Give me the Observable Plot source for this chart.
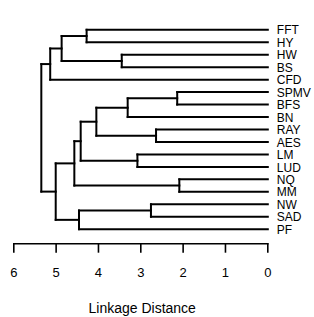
<!DOCTYPE html>
<html><head><meta charset="utf-8">
<script src="https://cdn.jsdelivr.net/npm/d3@7"></script>
<script src="https://cdn.jsdelivr.net/npm/@observablehq/plot@0.6"></script>
<style>html,body{margin:0;padding:0;background:#fff;overflow:hidden}</style>
</head><body><div id="chart"></div>
<script>
const leaves = ["FFT","HY","HW","BS","CFD","SPMV","BFS","BN","RAY","AES","LM","LUD","NQ","MM","NW","SAD","PF"];
// hierarchical merges (m# refers to the #-th merge, 1-based)
const mergeLeft   = ["NQ","SPMV","RAY","NW","LM","m2","HW","m6","FFT","m8","m4","m10","m9","m12","m13","m15"];
const mergeRight  = ["MM","BFS","AES","SAD","LUD","BN","BS","m3","HY","m5","PF","m1","m7","m11","CFD","m14"];
const mergeHeight = [2.09,2.14,2.64,2.76,3.08,3.31,3.45,4.05,4.28,4.42,4.46,4.57,4.87,5.01,5.14,5.35];
const xTicks = [0,1,2,3,4,5,6];
const axisTitle = "Linkage Distance";

const nodes = {};
leaves.forEach((d, i) => nodes[d] = {x: 0, y: i});
const segs = [];
mergeHeight.forEach((h, k) => {
  const a = nodes[mergeLeft[k]], b = nodes[mergeRight[k]];
  segs.push({x1: a.x, x2: h, y1: a.y, y2: a.y});
  segs.push({x1: b.x, x2: h, y1: b.y, y2: b.y});
  segs.push({x1: h, x2: h, y1: a.y, y2: b.y});
  nodes["m" + (k + 1)] = {x: h, y: (a.y + b.y) / 2};
});

const chart = Plot.plot({
  width: 314, height: 317,
  marginLeft: 13.3, marginRight: 46.7, marginTop: 20, marginBottom: 73.7,
  style: {fontFamily: "'Liberation Sans', Arial, sans-serif", background: "#fff", overflow: "hidden"},
  x: {domain: [6, 0]},
  y: {domain: [0, 16], range: [29.3, 228.7], axis: null},
  marks: [
    Plot.link(segs, {x1: "x1", y1: "y1", x2: "x2", y2: "y2", stroke: "black", strokeWidth: 2, strokeLinecap: "square"}),
    Plot.text(leaves, {x: 0, y: (d, i) => i, text: d => d, textAnchor: "start", dx: 9, dy: 0.8, fontSize: 12, fill: "black"}),
    Plot.frame({anchor: "bottom", stroke: "black", strokeWidth: 1.6}),
    Plot.axisX(xTicks, {tickFormat: d => String(d), tickSize: 9.4, tickPadding: 14.1, fontSize: 13, label: null, stroke: "black", strokeWidth: 1.6, fill: "black"}),
    Plot.text([axisTitle], {frameAnchor: "bottom", dy: 64.7, dx: 1.4, fontSize: 14, lineAnchor: "middle", fill: "black"})
  ]
});
document.getElementById("chart").appendChild(chart);
</script></body></html>
